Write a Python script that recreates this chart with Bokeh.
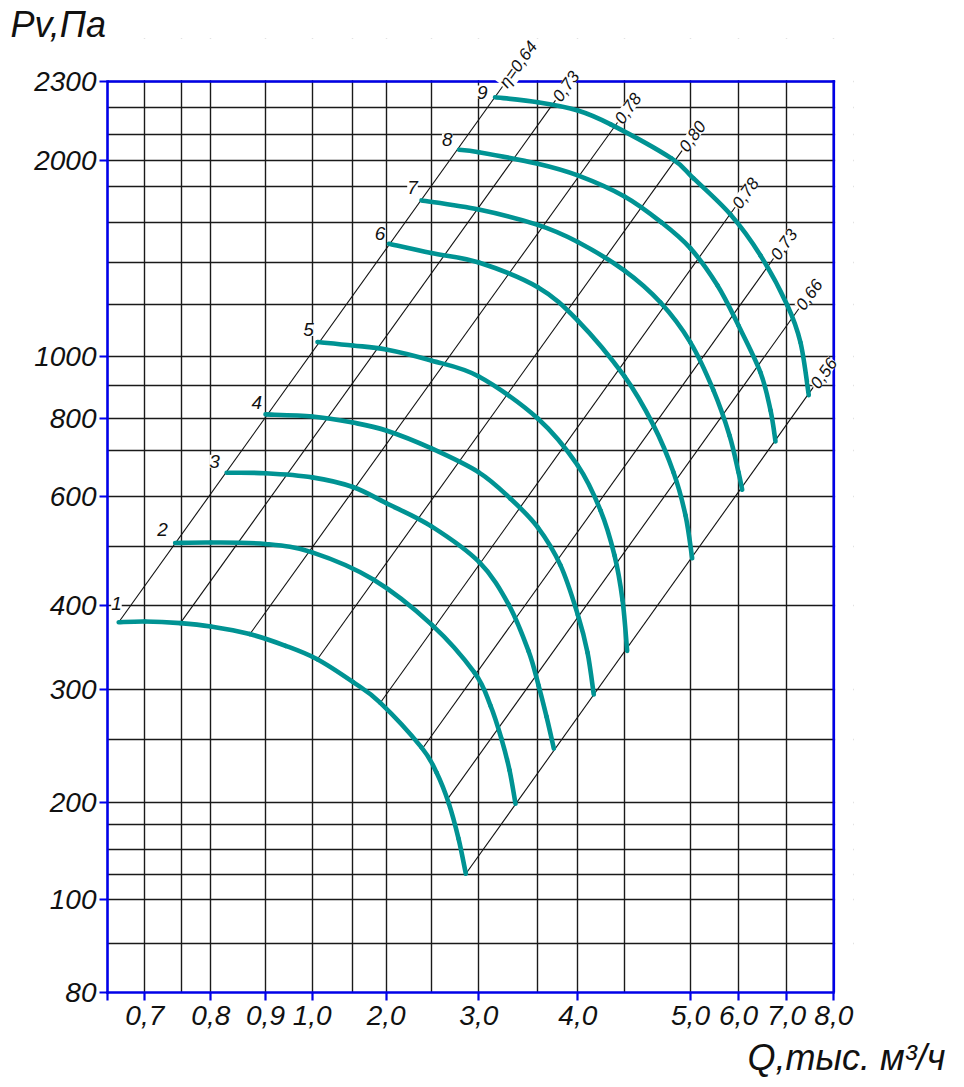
import numpy as np
from bokeh.plotting import figure
from bokeh.models import Range1d, FixedTicker, LinearAxis, Grid, Label, Title, ColumnDataSource
from bokeh.embed import file_html
from bokeh.resources import INLINE

# ---- axis calibration of the (non-uniform) drawing grid ----
Q_SCALE = [0.65, 0.7, 0.75, 0.8, 0.9, 1.0, 1.5, 2.0, 2.5, 3.0, 3.5, 4.0, 4.5, 5.0, 6.0, 7.0, 8.0]
Q_AXIS_POS = [0, 37.3, 74.3, 103.3, 158, 204.7, 245.3, 278.7, 323.7, 371.3, 430.3, 470.3, 517, 583, 631, 679, 726.3]
P_SCALE = [80, 90, 100, 125, 150, 175, 200, 250, 300, 400, 500, 600, 700, 800, 900, 1000,
           1200, 1400, 1600, 1800, 2000, 2100, 2200, 2300]
P_AXIS_POS = [0, 48.7, 93.3, 117.7, 143, 167.7, 189.7, 252.7, 303, 387, 446, 496.3, 542.2, 573.7,
              607.5, 636, 688.5, 730, 770.3, 806, 832, 858, 884.7, 911]

Q_TICKS = [0.7, 0.8, 0.9, 1.0, 2.0, 3.0, 4.0, 5.0, 6.0, 7.0, 8.0]
Q_TICK_LABELS = ["0,7", "0,8", "0,9", "1,0", "2,0", "3,0", "4,0", "5,0", "6,0", "7,0", "8,0"]
P_TICKS = [80, 100, 200, 300, 400, 600, 800, 1000, 2000, 2300]
P_TICK_LABELS = ["80", "100", "200", "300", "400", "600", "800", "1000", "2000", "2300"]

# ---- fan curves (Q, thousand m3/h ; Pv, Pa) ----
C1_Q = [0.665, 0.70, 0.748, 0.80, 0.871, 0.943, 1.062, 1.5, 1.909, 2.392, 2.556, 2.686, 2.787, 2.864]
C1_P = [380, 381, 379, 375, 366, 352, 336, 309, 287, 244, 224, 199, 161, 126]
C2_Q = [0.741, 0.80, 0.90, 1.0, 1.807, 2.507, 2.955, 3.099, 3.192, 3.26, 3.311]
C2_P = [507, 508, 505, 490, 444, 377, 320, 284, 251, 226, 199]
C3_Q = [0.829, 0.90, 1.0, 1.5, 2.003, 2.503, 3.006, 3.252, 3.421, 3.509, 3.609, 3.701]
C3_P = [651, 650, 641, 620, 586, 540, 473, 402, 346, 305, 273, 243]
C4_Q = [0.90, 1.0, 1.5, 2.0, 2.503, 3.0, 3.269, 3.5, 3.784, 4.0, 4.104, 4.171]
C4_P = [813, 807, 788, 763, 706, 652, 595, 538, 468, 389, 344, 295]
C5_Q = [1.065, 1.5, 2.0, 2.5, 3.0, 3.5, 4.0, 4.243, 4.393, 4.479, 4.52]
C5_P = [1055, 1042, 1027, 986, 930, 801, 667, 572, 485, 409, 346]
C6_Q = [2.03, 2.5, 3.0, 3.5, 4.0, 4.5, 4.72, 4.871, 4.962, 5.035]
C6_P = [1493, 1447, 1400, 1281, 1137, 930, 779, 652, 562, 480]
C7_Q = [2.392, 3.0, 3.5, 4.0, 4.5, 4.773, 5.0, 5.479, 5.813, 6.0, 6.077]
C7_P = [1722, 1671, 1587, 1502, 1361, 1207, 1053, 884, 747, 652, 614]
C8_Q = [2.793, 3.0, 3.5, 4.0, 4.5, 4.78, 5.0, 5.563, 6.0, 6.458, 6.667, 6.771]
C8_P = [2041, 2032, 1975, 1885, 1744, 1599, 1470, 1289, 1118, 944, 825, 728]
C9_Q = [3.138, 3.5, 4.0, 4.352, 4.856, 5.063, 5.833, 6.458, 7.015, 7.296, 7.471]
C9_P = [2240, 2221, 2190, 2138, 2008, 1862, 1643, 1435, 1196, 1053, 870]
CURVES = [(C1_Q, C1_P), (C2_Q, C2_P), (C3_Q, C3_P), (C4_Q, C4_P), (C5_Q, C5_P),
          (C6_Q, C6_P), (C7_Q, C7_P), (C8_Q, C8_P), (C9_Q, C9_P)]

CURVE_NAMES = ["1", "2", "3", "4", "5", "6", "7", "8", "9"]
NAME_Q = [0.662, 0.724, 0.807, 0.884, 0.992, 1.909, 2.292, 2.668, 3.029]
NAME_P = [403, 534, 676, 848, 1103, 1546, 1796, 2079, 2260]

# ---- efficiency lines ----
ETA_LABELS = ["η=0,64", "0,73", "0,78", "0,80", "0,78", "0,73", "0,66", "0,56"]
ETA_Q0 = [0.665, 0.748, 0.871, 1.062, 1.915, 2.403, 2.666, 2.864]
ETA_P0 = [380, 379, 365.5, 335.7, 287.1, 243.1, 202.3, 126]
ETA_Q1 = [3.201, 3.721, 4.425, 4.936, 5.929, 6.729, 7.26, 7.564]
ETA_P1 = [2281, 2228, 2145, 2038, 1684, 1420, 1182, 893]

BLUE = "#0000e8"
TEAL = "#009393"
INK = "#111111"
FONT_NAME = "Liberation Sans"
TOP_SPACE = 43     # room above the chart for the rotated efficiency labels
RIGHT_SPACE = 20   # room right of the chart


def tq(q):
    return np.interp(np.asarray(q, dtype=float), Q_SCALE, Q_AXIS_POS)


def tp(p):
    return np.interp(np.asarray(p, dtype=float), P_SCALE, P_AXIS_POS)


XMAX = Q_AXIS_POS[-1]
YMAX = P_AXIS_POS[-1]
W = round(XMAX + RIGHT_SPACE)
H = round(YMAX + TOP_SPACE)

p = figure(frame_width=W, frame_height=H,
           x_range=Range1d(0, W), y_range=Range1d(0, H),
           x_axis_type=None, y_axis_type=None,
           output_backend="svg", toolbar_location=None,
           min_border_left=107, min_border_right=108, min_border_top=38, min_border_bottom=93)
p.outline_line_color = None
p.background_fill_color = "white"
p.border_fill_color = "white"

# grid
gx = Grid(dimension=0, ticker=FixedTicker(ticks=[float(v) for v in tq(Q_SCALE)]),
          grid_line_color="#1a1a1a", grid_line_width=1.4)
gy = Grid(dimension=1, ticker=FixedTicker(ticks=[float(v) for v in tp(P_SCALE)]),
          grid_line_color="#1a1a1a", grid_line_width=1.4)
p.add_layout(gx)
p.add_layout(gy)

# axes
xt = [round(float(v), 3) for v in tq(Q_TICKS)]
yt = [round(float(v), 3) for v in tp(P_TICKS)]
xt_all = [0.0] + xt
xlab = {0.0: ""}
xlab.update({t: s for t, s in zip(xt, Q_TICK_LABELS)})
common = dict(axis_line_color=BLUE, axis_line_width=2.6, axis_line_cap="square",
              major_tick_line_color=BLUE, major_tick_line_width=2.2,
              major_tick_out=8, major_tick_in=0, minor_tick_line_color=None,
              major_label_text_font=FONT_NAME, major_label_text_font_style="italic",
              major_label_text_font_size="28px", major_label_text_color=INK)
xa = LinearAxis(ticker=FixedTicker(ticks=xt_all), major_label_overrides=xlab,
                major_label_standoff=5, bounds=(0, XMAX), **common)
ya = LinearAxis(ticker=FixedTicker(ticks=yt), major_label_overrides={t: s for t, s in zip(yt, P_TICK_LABELS)},
                major_label_standoff=3, bounds=(0, YMAX), **common)
p.add_layout(xa, "below")
p.add_layout(ya, "left")

# blank the drawing sheet outside the chart rectangle, then draw its top and right border
p.quad(left=[-10, XMAX + 1.3], right=[W + 10, W + 10], bottom=[YMAX + 1.3, -10], top=[H + 10, H + 10],
       fill_color="white", line_color=None)
p.segment(x0=[0, XMAX], y0=[YMAX, 0], x1=[XMAX, XMAX], y1=[YMAX, YMAX],
          line_color=BLUE, line_width=2.6, line_cap="square")

# efficiency lines
p.segment(x0=tq(ETA_Q0), y0=tp(ETA_P0), x1=tq(ETA_Q1), y1=tp(ETA_P1),
          line_color=INK, line_width=1.1)


# curves as smooth Catmull-Rom beziers through the read points
def bez(xs, ys):
    P = np.column_stack([xs, ys])
    pad = np.vstack([P[0], P, P[-1]])
    out = {k: [] for k in ("x0", "y0", "x1", "y1", "cx0", "cy0", "cx1", "cy1")}
    for i in range(len(P) - 1):
        p0, p1, p2, p3 = pad[i], pad[i + 1], pad[i + 2], pad[i + 3]
        c1 = p1 + (p2 - p0) / 6.0
        c2 = p2 - (p3 - p1) / 6.0
        out["x0"].append(p1[0]); out["y0"].append(p1[1])
        out["x1"].append(p2[0]); out["y1"].append(p2[1])
        out["cx0"].append(c1[0]); out["cy0"].append(c1[1])
        out["cx1"].append(c2[0]); out["cy1"].append(c2[1])
    return out


for cq, cp in CURVES:
    b = bez(tq(cq), tp(cp))
    p.bezier(source=ColumnDataSource(b), x0="x0", y0="y0", x1="x1", y1="y1",
             cx0="cx0", cy0="cy0", cx1="cx1", cy1="cy1",
             line_color=TEAL, line_width=4.6, line_cap="round")


def text(x, y, s, size, angle=0.0, align="left", baseline="alphabetic", bg=None):
    p.add_layout(Label(x=float(x), y=float(y), text=s,
                       text_font=FONT_NAME, text_font_style="italic", text_font_size=size,
                       text_color=INK, angle=angle, text_align=align, text_baseline=baseline,
                       background_fill_color=bg))


# curve numbers
for xx, yy, s in zip(tq(NAME_Q), tp(NAME_P), CURVE_NAMES):
    text(xx, yy, s, "19px", align="center", baseline="middle", bg="white")

# efficiency labels along the line direction
ang = float(np.arctan(1.396))
for xx, yy, s in zip(tq(ETA_Q1), tp(ETA_P1), ETA_LABELS):
    text(xx + 1.0 * np.cos(ang), yy + 1.0 * np.sin(ang), s, "17px", angle=ang,
         baseline="middle", bg="white")

# axis titles
p.add_layout(Title(text="Pv,Па", align="left", offset=-97, standoff=-12, vertical_align="bottom",
                   text_font=FONT_NAME, text_font_style="italic", text_font_size="36px",
                   text_color=INK), "above")
p.add_layout(Title(text="Q,тыс. м³/ч", align="left", offset=640, standoff=14,
                   text_font=FONT_NAME, text_font_style="italic", text_font_size="36px",
                   text_color=INK), "below")

open("out.html", "w").write(file_html(p, INLINE))
